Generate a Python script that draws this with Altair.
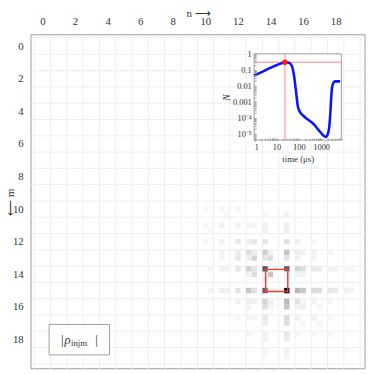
import altair as alt
import pandas as pd

# ---------------- data ----------------
n_sites = 20
sub_per_site = 3            # the density image has 3 sub-pixels per lattice site
n_ticks = list(range(n_sites))

# |rho| image blobs, (column, row) in sub-pixel units, darkness in %; matrix is symmetric
pair_a = [31, 34, 37, 39, 40, 42, 43, 46, 48, 49, 51, 52, 54, 57,
          32, 34, 35, 37, 39, 40, 42, 42, 42, 42, 42, 42, 42, 42, 42, 42,
          32, 34, 35, 37, 39, 40, 43, 44, 46, 46, 46, 46, 46, 46, 46, 46,
          40, 39, 43, 43, 34, 37, 37, 34, 34, 31, 31, 32, 37, 39, 40, 39, 48, 49, 48, 37, 39, 40, 51, 39, 48, 39]
pair_b = [31, 34, 37, 39, 40, 42, 43, 46, 48, 49, 51, 52, 54, 57,
          42, 42, 42, 42, 42, 42, 44, 46, 48, 49, 51, 52, 54, 55, 57, 58,
          46, 46, 46, 46, 46, 46, 46, 46, 48, 49, 51, 52, 54, 55, 57, 58,
          43, 43, 48, 49, 37, 39, 40, 39, 40, 37, 34, 35, 48, 48, 48, 49, 51, 52, 54, 51, 51, 51, 54, 54, 49, 40]
pair_v = [2, 5, 8, 12, 15, 60, 20, 100, 10, 6, 5, 3, 3, 2,
          3, 5, 4, 9, 17, 9, 5, 58, 15, 12, 8, 6, 5, 4, 3, 3,
          4, 6, 5, 10, 20, 10, 5, 4, 25, 20, 13, 12, 8, 7, 5, 4,
          12, 5, 5, 4, 4, 6, 8, 4, 3, 3, 3, 3, 5, 6, 4, 4, 5, 3, 3, 3, 4, 3, 3, 3, 4, 6]

red_box_lo = 13.7
red_box_hi = 15.06

# inset: N(t) on log-log axes
inset_t = [1, 2.8, 7.9, 15.6, 24, 38, 50, 60, 70, 80, 90, 100, 115, 173, 487, 970, 1360,
           1620, 1910, 2280, 2550, 2800, 3050, 3450, 4100, 7100]
inset_N = [0.043, 0.087, 0.17, 0.25, 0.30, 0.27, 0.16, 0.05, 0.01, 0.002, 5.5e-4, 3.2e-4, 2.2e-4,
           1.2e-4, 3.7e-5, 1.15e-5, 7.2e-6, 6.3e-6, 8.3e-6, 2.3e-5, 1.5e-4, 1.5e-3, 7e-3, 0.014, 0.019, 0.019]
peak_t = 24
peak_N = 0.30
inset_t_dom = [1, 8000]
inset_N_dom = [4e-6, 1]
inset_t_labels = [1, 10, 100, 1000]

# ---------------- frames ----------------
rows = []
for a, b, v in zip(pair_a, pair_b, pair_v):
    for c, r in {(a, b), (b, a)}:
        rows.append(dict(x=c / sub_per_site - 0.5, x2=(c + 1) / sub_per_site - 0.5,
                         y=r / sub_per_site - 0.5, y2=(r + 1) / sub_per_site - 0.5, v=v))
heat_df = pd.DataFrame(rows)
grid_df = pd.DataFrame({"b": [i - 0.5 for i in range(n_sites + 1)]})
box_df = pd.DataFrame({"lo": [red_box_lo], "hi": [red_box_hi]})
one = pd.DataFrame({"k": [0]})

curve_df = pd.DataFrame({"t": inset_t, "N": inset_N})
frame_df = pd.DataFrame({"t0": [inset_t_dom[0]], "t1": [inset_t_dom[1]],
                         "n0": [inset_N_dom[0]], "n1": [inset_N_dom[1]],
                         "pt": [peak_t], "pN": [peak_N]})

xi_vals = [k * 10 ** e for e in range(0, 4) for k in range(1, 10) if k * 10 ** e <= inset_t_dom[1]]
yi_vals = [k * 10.0 ** e for e in range(-6, 1) for k in range(1, 10)
           if inset_N_dom[0] <= k * 10.0 ** e <= inset_N_dom[1]]

FONT = "Liberation Serif"
INK = "#333333"
W = 341
H = 341

DOM = [-0.7, 19.8]
XS = alt.Scale(domain=DOM, nice=False, zero=False)
YS = alt.Scale(domain=DOM, nice=False, zero=False, reverse=True)

common_axis = dict(values=n_ticks, labelExpr="datum.value % 2 == 0 ? datum.label : ''",
                   tickSize=3, tickColor="#9a9a9a", offset=-3, domain=False, grid=False,
                   labelPadding=8, labelFont=FONT, labelFontSize=11, labelColor=INK,
                   titleFont=FONT, titleFontSize=11, titleFontWeight="normal", titleColor=INK,
                   titleBaseline="alphabetic")
x_axis = alt.Axis(orient="top", title="n ⟶", titleY=-22, **common_axis)
y_axis = alt.Axis(orient="left", title="⟵ m", titleX=-20.5, **common_axis)

# main frame carries the axes
frame_main = alt.Chart(pd.DataFrame({"lo": [DOM[0]], "hi": [DOM[1]]})).mark_rect(
    fill="white", stroke="#9a9a9a", strokeWidth=1).encode(
    x=alt.X("lo:Q", scale=XS, axis=x_axis), x2="hi:Q",
    y=alt.Y("lo:Q", scale=YS, axis=y_axis), y2="hi:Q")
grid_v = alt.Chart(grid_df).mark_rule(color="#efefef", strokeWidth=1).encode(
    x=alt.X("b:Q", scale=XS, axis=None))
grid_h = alt.Chart(grid_df).mark_rule(color="#efefef", strokeWidth=1).encode(
    y=alt.Y("b:Q", scale=YS, axis=None))
heat = alt.Chart(heat_df).mark_rect(strokeWidth=0).encode(
    x=alt.X("x:Q", scale=XS, axis=None), x2="x2:Q",
    y=alt.Y("y:Q", scale=YS, axis=None), y2="y2:Q",
    color=alt.Color("v:Q", scale=alt.Scale(domain=[0, 100], range=["#ffffff", "#000000"]), legend=None))
red_box = alt.Chart(box_df).mark_rect(fillOpacity=0, stroke="#e8403a", strokeWidth=1.5).encode(
    x=alt.X("lo:Q", scale=XS, axis=None), x2="hi:Q",
    y=alt.Y("lo:Q", scale=YS, axis=None), y2="hi:Q")

legend_box = alt.Chart(one).mark_rect(fill="white", stroke="#a0a0a0", strokeWidth=1).encode(
    x=alt.value(18.5), x2=alt.value(80.2), y=alt.value(295.8), y2=alt.value(326.8))
legend_bar1 = alt.Chart(one).mark_text(font=FONT, fontSize=13, align="center", baseline="alphabetic",
                                       fill=INK).encode(
    x=alt.value(31.8), y=alt.value(316), text=alt.value("|"))
legend_rho = alt.Chart(one).mark_text(font=FONT, fontSize=13, fontStyle="italic", align="left",
                                      baseline="alphabetic", fill=INK).encode(
    x=alt.value(34.3), y=alt.value(315.5), text=alt.value("ρ"))
legend_sub = alt.Chart(one).mark_text(font=FONT, fontSize=9, align="left", baseline="alphabetic",
                                      fill=INK).encode(
    x=alt.value(40.8), y=alt.value(318), text=alt.value("injm"))
legend_bar2 = alt.Chart(one).mark_text(font=FONT, fontSize=13, align="center", baseline="alphabetic",
                                       fill=INK).encode(
    x=alt.value(66.8), y=alt.value(316), text=alt.value("|"))

# ---------------- inset ----------------
XI = alt.Scale(type="log", domain=inset_t_dom, range=[227.8, 316.8], nice=False)
YI = alt.Scale(type="log", domain=inset_N_dom, range=[107.5, 19.5], nice=False)

y_lab = ("datum.value == 1 ? '1' : datum.value == 0.1 ? '0.1' : datum.value == 0.01 ? '0.01' : "
         "datum.value == 0.001 ? '0.001' : datum.value == 0.0001 ? '10⁻⁴' : "
         "datum.value == 0.00001 ? '10⁻⁵' : ''")
x_lab = "indexof(" + str(inset_t_labels) + ", datum.value) >= 0 ? format(datum.value, 'd') : ''"

xi_axis = alt.Axis(orient="bottom", values=xi_vals, labelExpr=x_lab, tickSize=2, tickColor="#9a9a9a",
                   offset=-(H - 107.5 + 2), domain=False, grid=False, labelPadding=3,
                   labelFont=FONT, labelFontSize=8.5, labelColor=INK,
                   title="time (μs)", titleFont=FONT, titleFontSize=9,
                   titleFontWeight="normal", titleColor=INK, titlePadding=3, zindex=2)
yi_axis = alt.Axis(orient="left", values=yi_vals, labelExpr=y_lab, tickSize=2, tickColor="#9a9a9a",
                   offset=-(227.8 + 2), domain=False, grid=False, labelPadding=3,
                   labelFont=FONT, labelFontSize=8.5, labelColor=INK,
                   title="N", titleFont=FONT, titleFontSize=10,
                   titleFontStyle="italic", titleFontWeight="normal", titleColor=INK,
                   titlePadding=1, zindex=2)

inset_frame = alt.Chart(frame_df).mark_rect(fill="white", stroke="#9a9a9a", strokeWidth=1).encode(
    x=alt.X("t0:Q", scale=XI, axis=xi_axis), x2="t1:Q",
    y=alt.Y("n0:Q", scale=YI, axis=yi_axis), y2="n1:Q")
inset_h = alt.Chart(frame_df).mark_rule(color="#f08a8a", strokeWidth=1).encode(
    x=alt.X("t0:Q", scale=XI, axis=None), x2="t1:Q", y=alt.Y("pN:Q", scale=YI, axis=None))
inset_v = alt.Chart(frame_df).mark_rule(color="#f08a8a", strokeWidth=1).encode(
    x=alt.X("pt:Q", scale=XI, axis=None), y=alt.Y("n0:Q", scale=YI, axis=None), y2="n1:Q")
inset_curve = alt.Chart(curve_df).mark_line(color="#0a14ff", strokeWidth=2.6, interpolate="monotone").encode(
    x=alt.X("t:Q", scale=XI, axis=None), y=alt.Y("N:Q", scale=YI, axis=None))
inset_dot = alt.Chart(frame_df).mark_point(filled=True, color="#ff1a1a", size=32, opacity=1).encode(
    x=alt.X("pt:Q", scale=XI, axis=None), y=alt.Y("pN:Q", scale=YI, axis=None))

chart = alt.layer(
    frame_main, grid_v, grid_h, heat, red_box,
    legend_box, legend_bar1, legend_rho, legend_sub, legend_bar2,
    inset_frame, inset_h, inset_v, inset_curve, inset_dot,
).resolve_scale(x="independent", y="independent").properties(
    width=W, height=H,
    padding={"left": 23.5, "top": 23.5, "right": 1, "bottom": 1},
    autosize=alt.AutoSizeParams(type="none"),
).configure_view(stroke=None)

chart.save("out.html", embed_options={"renderer": "svg", "actions": False})
